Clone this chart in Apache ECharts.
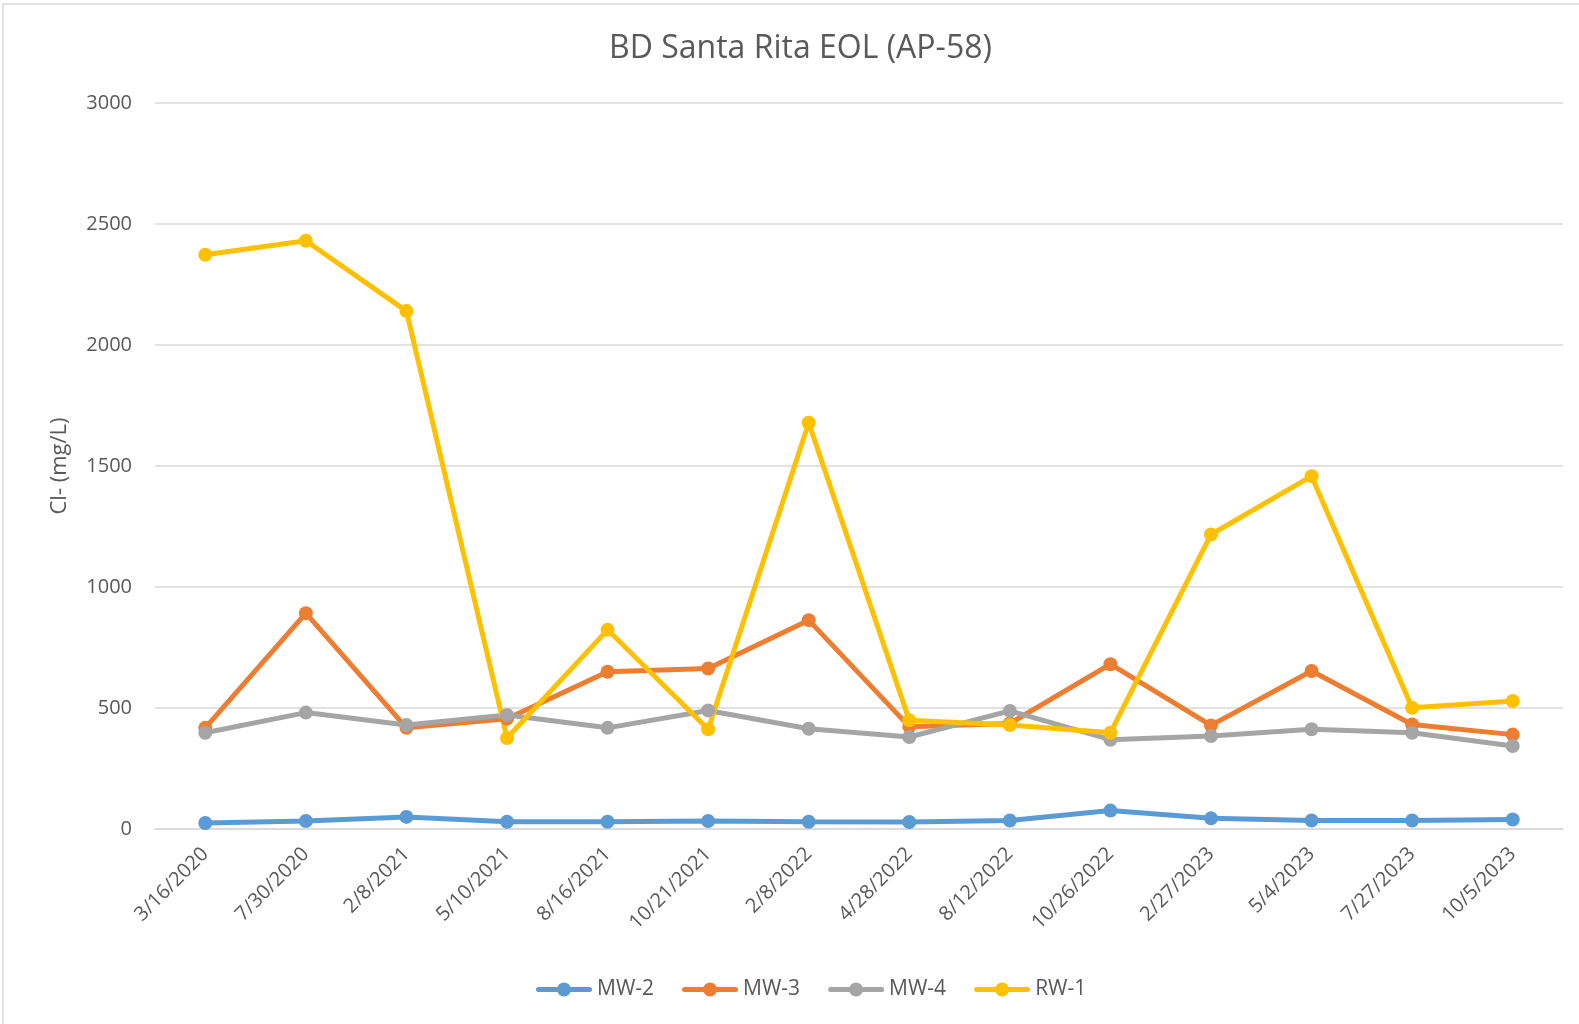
<!DOCTYPE html>
<html>
<head>
<meta charset="utf-8">
<script src="https://cdn.jsdelivr.net/npm/echarts@6/dist/echarts.min.js"></script>
<style>html,body{margin:0;padding:0;background:#fff}#c{width:1579px;height:1024px}</style>
</head>
<body>
<div id="c"></div>
<script>
const categories = ['3/16/2020','7/30/2020','2/8/2021','5/10/2021','8/16/2021','10/21/2021','2/8/2022','4/28/2022','8/12/2022','10/26/2022','2/27/2023','5/4/2023','7/27/2023','10/5/2023'];
const mw2 = [25, 33, 50, 30, 30, 33, 30, 29, 35, 76, 44, 35, 35, 39];
const mw3 = [418, 892, 418, 456, 650, 663, 863, 423, 436, 681, 428, 653, 432, 390];
const mw4 = [398, 481, 430, 471, 418, 490, 414, 380, 488, 369, 384, 412, 398, 343];
const rw1 = [2373, 2431, 2140, 376, 823, 412, 1679, 449, 430, 398, 1217, 1458, 501, 529];
const yTicks = [0, 500, 1000, 1500, 2000, 2500, 3000];

const FONT = '"Open Sans", "Noto Sans", sans-serif';
const chart = echarts.init(document.getElementById('c'), null, {renderer: 'canvas'});
const ICON = 'path://M2.5,4.5h51a2.5,2.5 0 0 1 0,5h-51a2.5,2.5 0 0 1 0,-5z M35,7a7,7 0 1 1 -14,0a7,7 0 1 1 14,0z';
function mk(name, data, color) {
  return {
    name, type: 'line', data,
    symbol: 'circle', symbolSize: 14,
    lineStyle: {width: 5, color},
    itemStyle: {color},
    animation: false
  };
}
chart.setOption({
  animation: false,
  backgroundColor: '#fff',
  color: ['#5b9bd5', '#ed7d31', '#a5a5a5', '#ffc000'],
  title: {
    text: 'BD Santa Rita EOL (AP-58)',
    left: 604, top: 28,
    textStyle: {fontFamily: FONT, fontSize: 32, fontWeight: 'normal', color: '#595959'}
  },
  graphic: [{
    type: 'rect', shape: {x: 3, y: 4, width: 1600, height: 1040},
    style: {fill: 'none', stroke: '#d9d9d9', lineWidth: 1.5}, silent: true
  }],
  legend: {
    bottom: 19, left: 531,
    itemWidth: 56, itemHeight: 14, itemGap: 28,
    textStyle: {fontFamily: FONT, fontSize: 21, color: '#595959'},
    icon: ICON,
    data: ['MW-2', 'MW-3', 'MW-4', 'RW-1']
  },
  grid: {left: 155, right: 16, top: 103, bottom: 195, containLabel: false},
  xAxis: {
    type: 'category', data: categories, boundaryGap: true,
    axisLine: {lineStyle: {color: '#d9d9d9', width: 1.5}},
    axisTick: {show: false},
    axisLabel: {rotate: 45, fontFamily: FONT, fontSize: 20, color: '#595959', margin: 22, interval: 0}
  },
  yAxis: {
    type: 'value', min: 0, max: 3000, interval: 500,
    name: 'Cl- (mg/L)', nameLocation: 'middle', nameGap: 84,
    nameTextStyle: {fontFamily: FONT, fontSize: 22, color: '#595959'},
    axisLine: {show: false}, axisTick: {show: false},
    axisLabel: {fontFamily: FONT, fontSize: 20, color: '#595959', margin: 23,
      formatter: v => yTicks.includes(v) ? String(v) : ''},
    splitLine: {lineStyle: {color: '#d9d9d9', width: 1.5}}
  },
  series: [
    mk('MW-2', mw2, '#5b9bd5'),
    mk('MW-3', mw3, '#ed7d31'),
    mk('MW-4', mw4, '#a5a5a5'),
    mk('RW-1', rw1, '#ffc000')
  ]
});
</script>
</body>
</html>
